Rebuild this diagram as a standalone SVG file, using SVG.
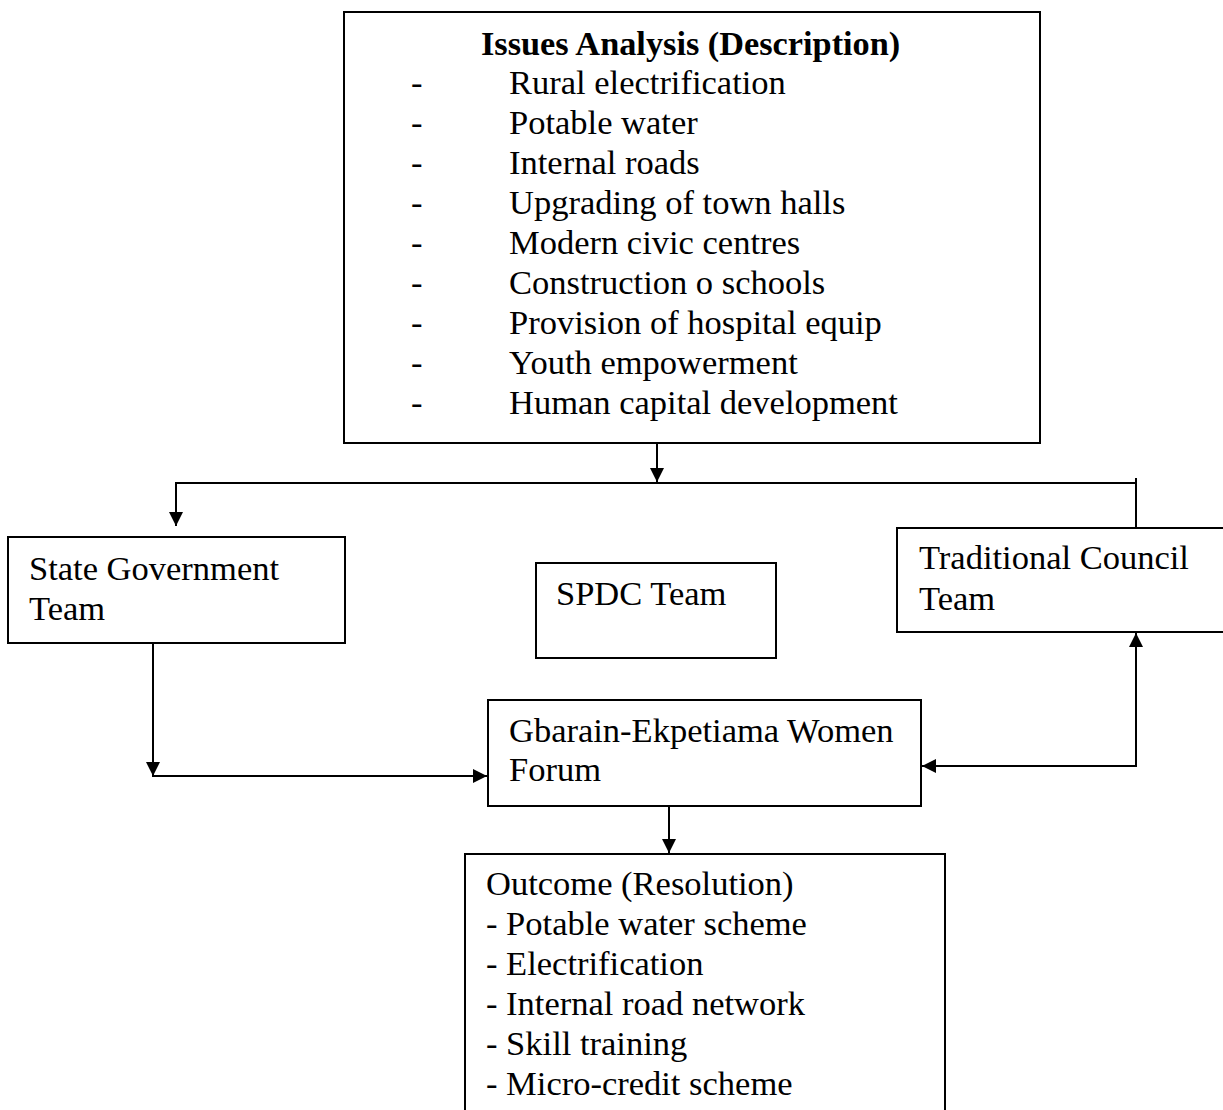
<svg xmlns="http://www.w3.org/2000/svg" width="1223" height="1110" viewBox="0 0 1223 1110">
<style>
.box{fill:#fff;stroke:#000;stroke-width:2}
.t{font-family:"Liberation Serif","Times New Roman",serif;font-size:34.5px;fill:#000}
.b{font-weight:bold;font-size:34.3px}
.c{fill:none;stroke:#000;stroke-width:2}
</style>
<defs>
<marker id="ah" viewBox="0 0 10 10" refX="10" refY="5" markerWidth="14" markerHeight="14" markerUnits="userSpaceOnUse" orient="auto">
<path d="M0,0 L10,5 L0,10 Z" fill="#000"/>
</marker>
</defs>
<rect width="1223" height="1110" fill="#fff"/>
<g id="issues">
<rect class="box" x="344" y="12" width="696" height="431"/>
<text class="t b" x="481" y="55">Issues Analysis (Description)</text>
<g class="t">
<text x="411" y="94">-</text><text x="509" y="94">Rural electrification</text>
<text x="411" y="134">-</text><text x="509" y="134">Potable water</text>
<text x="411" y="174">-</text><text x="509" y="174">Internal roads</text>
<text x="411" y="214">-</text><text x="509" y="214">Upgrading of town halls</text>
<text x="411" y="254">-</text><text x="509" y="254">Modern civic centres</text>
<text x="411" y="294">-</text><text x="509" y="294">Construction o schools</text>
<text x="411" y="334">-</text><text x="509" y="334">Provision of hospital equip</text>
<text x="411" y="374">-</text><text x="509" y="374">Youth empowerment</text>
<text x="411" y="414">-</text><text x="509" y="414">Human capital development</text>
</g>
</g>
<g id="state">
<rect class="box" x="8" y="537" width="337" height="106"/>
<text class="t" x="29" y="580">State Government</text>
<text class="t" x="29" y="620">Team</text>
</g>
<g id="spdc">
<rect class="box" x="536" y="563" width="240" height="95"/>
<text class="t" x="556" y="605">SPDC Team</text>
</g>
<g id="traditional">
<rect class="box" x="897" y="528" width="330" height="104"/>
<text class="t" x="919" y="569">Traditional Council</text>
<text class="t" x="919" y="610">Team</text>
</g>
<g id="forum">
<rect class="box" x="488" y="700" width="433" height="106"/>
<text class="t" x="509" y="742">Gbarain-Ekpetiama Women</text>
<text class="t" x="509" y="781">Forum</text>
</g>
<g id="outcome">
<rect class="box" x="465" y="854" width="480" height="270"/>
<g class="t">
<text x="486" y="895">Outcome (Resolution)</text>
<text x="486" y="935">- Potable water scheme</text>
<text x="486" y="975">- Electrification</text>
<text x="486" y="1015">- Internal road network</text>
<text x="486" y="1055">- Skill training</text>
<text x="486" y="1095">- Micro-credit scheme</text>
</g>
</g>
<g id="connectors">
<line class="c" x1="657" y1="444" x2="657" y2="482" marker-end="url(#ah)"/>
<line class="c" x1="176" y1="483" x2="1137" y2="483"/>
<line class="c" x1="176" y1="482" x2="176" y2="526" marker-end="url(#ah)"/>
<line class="c" x1="1136" y1="478" x2="1136" y2="527"/>
<line class="c" x1="153" y1="644" x2="153" y2="776" marker-end="url(#ah)"/>
<line class="c" x1="152" y1="776" x2="487" y2="776" marker-end="url(#ah)"/>
<line class="c" x1="1137" y1="766" x2="922" y2="766" marker-end="url(#ah)"/>
<line class="c" x1="1136" y1="767" x2="1136" y2="633" marker-end="url(#ah)"/>
<line class="c" x1="669" y1="807" x2="669" y2="853" marker-end="url(#ah)"/>
</g>
</svg>
